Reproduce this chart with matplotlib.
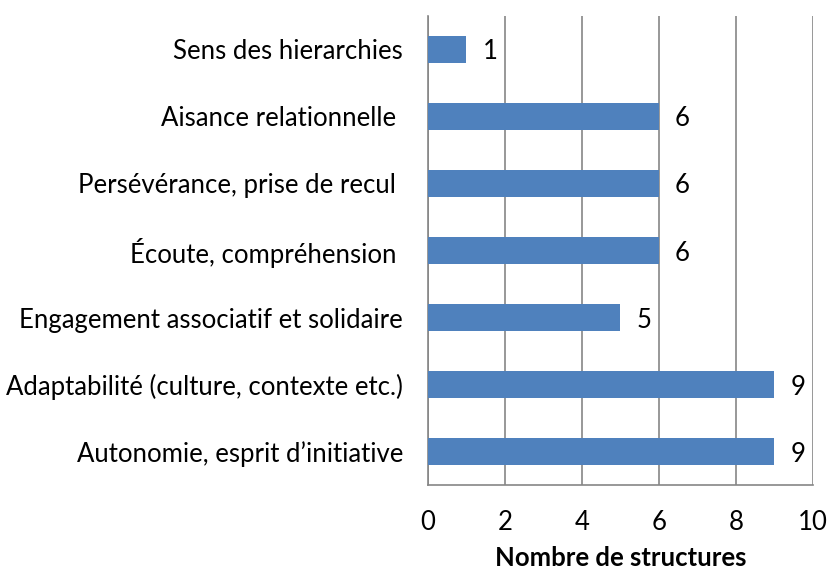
import matplotlib.pyplot as plt

# Données (de bas en haut)
categories = [
    "Autonomie, esprit d\u2019initiative",
    "Adaptabilité (culture, contexte etc.)",
    "Engagement associatif et solidaire",
    "Écoute, compréhension ",
    "Persévérance, prise de recul ",
    "Aisance relationnelle ",
    "Sens des hierarchies",
]
valeurs = [9, 9, 5, 6, 6, 6, 1]
ticks_x = [0, 2, 4, 6, 8, 10]

plt.rcParams['font.family'] = ['Lato', 'DejaVu Sans']
taille = 18.5

fig = plt.figure(figsize=(8.27, 5.70), dpi=100)
ax = fig.add_axes([0.5175, 0.149, 0.4655, 0.823])

pos = list(range(len(categories)))
ax.barh(pos, valeurs, height=0.39, color='#4F81BD', zorder=3)

for p, v in zip(pos, valeurs):
    ax.annotate(str(v), (v, p), xytext=(11.5, 0), textcoords='offset points',
                va='center_baseline', ha='left', fontsize=taille, color='black')

ax.set_xlim(0, 10)
ax.set_ylim(-0.5, len(categories) - 0.5)
ax.set_xticks(ticks_x)
ax.set_yticks(pos)
ax.set_yticklabels(categories, fontsize=taille)
ax.tick_params(axis='y', length=0, pad=18)
ax.tick_params(axis='x', length=0, pad=18, labelsize=taille)

ax.grid(axis='x', color='#868686', linewidth=1.2, zorder=0)
for s in ['top', 'right']:
    ax.spines[s].set_visible(False)
for s in ['left', 'bottom']:
    ax.spines[s].set_color('#868686')
    ax.spines[s].set_linewidth(1.2)

ax.set_xlabel('Nombre de structures', fontsize=taille, fontweight='bold', labelpad=8)

plt.savefig('out.png', dpi=100)
